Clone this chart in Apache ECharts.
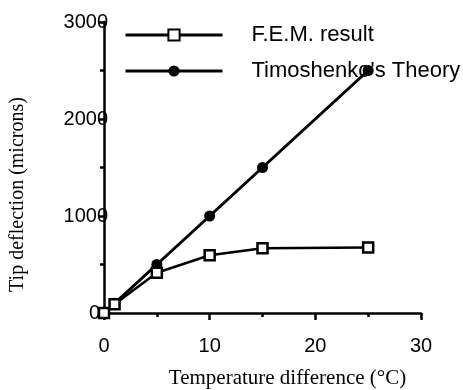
<!DOCTYPE html>
<html><head><meta charset="utf-8">
<script src="https://cdn.jsdelivr.net/npm/echarts@6/dist/echarts.min.js"></script>
<style>html,body{margin:0;padding:0;background:#fff}#c{width:463px;height:390px}</style>
</head><body><div id="c"></div>
<script>
const temps = [0, 1, 5, 10, 15, 25];
const femValues = [0, 90, 415, 595, 668, 675];
const timoValues = [0, 100, 500, 1000, 1500, 2500];
const seriesNames = ['F.E.M. result', "Timoshenko's Theory"];
const xTitle = 'Temperature difference (°C)';
const yTitle = 'Tip deflection (microns)';

const chart = echarts.init(document.getElementById('c'));
const pair = (xs, ys) => xs.map((x, i) => [x, ys[i]]);
const yLabelStyle = {fontFamily: 'Liberation Sans', fontSize: 20, color: '#000', showMinLabel: true, hideOverlap: false};
chart.setOption({
  animation: false,
  backgroundColor: '#fff',
  grid: {left: 104, right: 42, top: 22, bottom: 77, outerBoundsMode: 'none', containLabel: false},
  legend: {
    orient: 'vertical', left: 119, top: 19, itemGap: 14,
    itemWidth: 97, itemHeight: 14,
    lineStyle: {width: 3},
    textStyle: {fontFamily: 'Liberation Sans', fontSize: 22, color: '#000', padding: [0, 0, 0, 24]},
    data: seriesNames
  },
  xAxis: {
    type: 'value', min: 0, max: 30, interval: 10,
    name: xTitle, nameLocation: 'middle', nameGap: 55,
    nameTextStyle: {fontFamily: 'Liberation Serif', fontSize: 21, color: '#000', padding: [0, 0, 0, 50]},
    axisLine: {show: true, lineStyle: {color: '#000', width: 2.5}},
    axisTick: {show: true, length: 7, lineStyle: {color: '#000', width: 2.5}},
    minorTick: {show: true, splitNumber: 2, length: 4, lineStyle: {color: '#000', width: 2.5}},
    splitLine: {show: false},
    axisLabel: {fontFamily: 'Liberation Sans', fontSize: 20, color: '#000', margin: 23, formatter: v => String(v)}
  },
  yAxis: [{
    type: 'value', min: 0, max: 3000, interval: 1000,
    name: yTitle, nameLocation: 'middle', nameGap: 76,
    nameTextStyle: {fontFamily: 'Liberation Serif', fontSize: 20, color: '#000', padding: [0, 54, 0, 0]},
    axisLine: {show: true, onZero: false, lineStyle: {color: '#000', width: 2.5}},
    axisTick: {show: true, length: 5, lineStyle: {color: '#000', width: 2.5}},
    minorTick: {show: true, splitNumber: 2, length: 4, lineStyle: {color: '#000', width: 2.5}},
    splitLine: {show: false},
    axisLabel: Object.assign({}, yLabelStyle, {margin: -4, formatter: v => (v === 0 ? '' : String(v))})
  }, {
    type: 'value', min: 0, max: 3000, interval: 1000, position: 'left',
    axisLine: {show: false}, axisTick: {show: false}, splitLine: {show: false},
    axisLabel: Object.assign({}, yLabelStyle, {margin: 4, formatter: v => (v === 0 ? '0' : '')})
  }],
  series: [
    {
      name: seriesNames[0], type: 'line', data: pair(temps, femValues),
      symbol: 'rect', symbolSize: 10,
      lineStyle: {color: '#000', width: 2.5},
      itemStyle: {color: '#fff', borderColor: '#000', borderWidth: 2.5},
      z: 3
    },
    {
      name: seriesNames[1], type: 'line', data: pair(temps, timoValues),
      symbol: 'circle', symbolSize: 11,
      lineStyle: {color: '#000', width: 3},
      itemStyle: {color: '#000', borderColor: '#000', borderWidth: 0},
      z: 2
    }
  ]
});
</script></body></html>
